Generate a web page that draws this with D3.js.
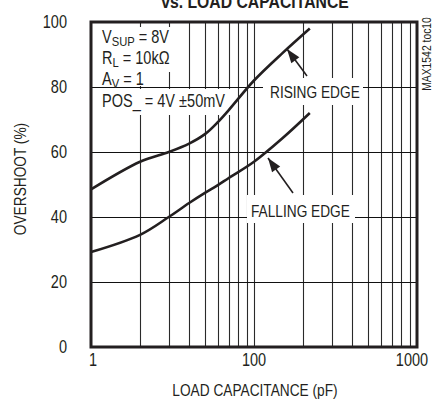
<!DOCTYPE html>
<html><head><meta charset="utf-8">
<script src="https://cdn.jsdelivr.net/npm/d3@7"></script>
<style>
body{margin:0;background:#fff;}
svg{display:block;}
text{font-family:"Liberation Sans Narrow","Liberation Sans",sans-serif;fill:#231f20;}
</style></head>
<body>
<svg id="c" width="435" height="403"></svg>
<script>
// ---- data ----
const capacitance = [10, 20, 30, 40, 50, 60, 70, 100, 150, 220];              // pF (log axis)
const risingEdge  = [48.5, 57, 60, 62.6, 65.5, 69.2, 72.9, 82, 90.5, 98];     // %
const fallingEdge = [29.2, 34.5, 40, 44.3, 47.4, 49.8, 52, 57, 64.3, 72];      // %
const xTickValues = [10, 100, 1000];
const xTickLabels = ["1", "100", "1000"];
const yTickValues = [0, 20, 40, 60, 80, 100];
const conditions = ["VSUP = 8V", "RL = 10kΩ", "AV = 1", "POS_ = 4V ±50mV"];

const svg = d3.select("#c");
const m = {l:91, r:417, t:22, b:347};
const x = d3.scaleLog().domain([10,1000]).range([m.l, m.r]);
const y = d3.scaleLinear().domain([0,100]).range([m.b, m.t]);
const ink = "#231f20";
const SX = 0.83; // narrow-font emulation

function ntext(px, py, size, anchor, rot){
  return svg.append("text")
    .attr("transform", `translate(${px},${py})` + (rot?` rotate(${rot})`:"") + ` scale(${SX},1)`)
    .attr("text-anchor", anchor||"start").style("font-size", size+"px");
}

// title (cut off at top, as in the reference)
ntext(255, 8, 19, "middle").style("font-weight","bold").text("vs. LOAD CAPACITANCE");

// grid
const g = svg.append("g");
const minor = [];
for (let d of [10,100]) for (let k=2;k<=10;k++) minor.push(d*k);
g.selectAll(".vg").data(minor.filter(v=>v<1000)).join("line")
  .attr("x1",d=>Math.round(x(d))+0.5).attr("x2",d=>Math.round(x(d))+0.5)
  .attr("y1",m.t).attr("y2",m.b).attr("stroke","#2a2a2a").attr("stroke-width",1.1);
g.selectAll(".hg").data([20,40,60,80]).join("line")
  .attr("x1",m.l).attr("x2",m.r)
  .attr("y1",d=>Math.round(y(d))+0.5).attr("y2",d=>Math.round(y(d))+0.5)
  .attr("stroke","#111").attr("stroke-width",1.1);

// knockouts behind annotation texts
const ko = svg.append("g").attr("fill","#fff");
function knock(x0,y0,x1,y1){ko.append("rect").attr("x",x0).attr("y",y0).attr("width",x1-x0).attr("height",y1-y0);}
knock(98,27,176,50);
knock(98,50,174,72);
knock(98,72,146,86);
knock(98,89,231,115);
knock(263,78,363,105);
knock(247,195,355,223);

// curves
const line = d3.line().x((d,i)=>x(capacitance[i])).y(d=>y(d)).curve(d3.curveCatmullRom.alpha(0.5));
svg.append("path").attr("d",line(risingEdge)).attr("fill","none").attr("stroke",ink).attr("stroke-width",2.6);
svg.append("path").attr("d",line(fallingEdge)).attr("fill","none").attr("stroke",ink).attr("stroke-width",2.6);

// frame
svg.append("rect").attr("x",m.l).attr("y",m.t).attr("width",m.r-m.l).attr("height",m.b-m.t)
  .attr("fill","none").attr("stroke",ink).attr("stroke-width",3);

// tick labels
yTickValues.forEach(v => ntext(67, y(v)+6, 17.5, "end").text(v));
xTickValues.forEach((v,i) => ntext(x(v)+(i===0?2:(i===2?-5:0)), 366, 17.5, "middle").text(xTickLabels[i]));

// axis titles
ntext(255, 396, 16.5, "middle").text("LOAD CAPACITANCE (pF)");
ntext(26, 179, 16.5, "middle", -90).text("OVERSHOOT (%)");
ntext(431, 54, 12.5, "middle", -90).text("MAX1542 toc10");

// conditions
const cfs = 17.5;
function subText(py, main, sub, rest){
  const t = ntext(102, py, cfs, "start");
  t.append("tspan").text(main);
  t.append("tspan").attr("dy",3).style("font-size","13.5px").text(sub);
  t.append("tspan").attr("dy",-3).text(rest);
}
subText(43, "V", "SUP", " = 8V");
subText(64, "R", "L", " = 10kΩ");
subText(85, "A", "V", " = 1");
ntext(102, 107, cfs, "start").text(conditions[3]);

// annotations
ntext(270, 98, 16.5, "start").text("RISING EDGE");
ntext(251, 217, 16.5, "start").text("FALLING EDGE");

function arrow(x0,y0,x1,y1){
  svg.append("line").attr("x1",x0).attr("y1",y0).attr("x2",x1).attr("y2",y1)
    .attr("stroke",ink).attr("stroke-width",1.6);
  const a = Math.atan2(y1-y0,x1-x0), L=14, W=5;
  const bx = x1 - L*Math.cos(a), by = y1 - L*Math.sin(a);
  const px = -Math.sin(a)*W, py = Math.cos(a)*W;
  svg.append("path").attr("d",`M${x1},${y1}L${bx+px},${by+py}L${bx-px},${by-py}Z`).attr("fill",ink);
}
arrow(307,76,287,49);
arrow(293,193,268,158);
</script>
</body></html>
